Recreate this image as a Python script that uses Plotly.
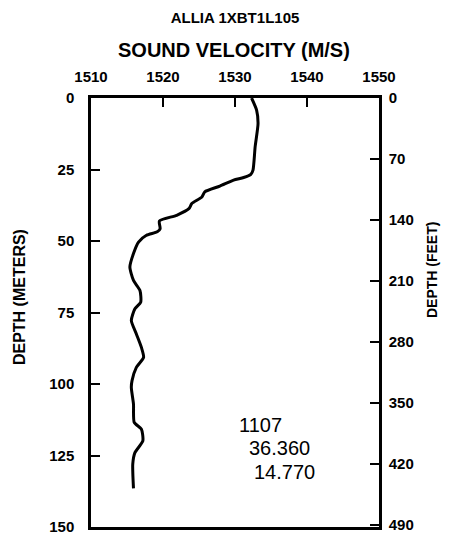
import plotly.graph_objects as go

# XBT cast: sound velocity profile
depth_m = [0, 4.2, 8.9, 17, 25.2, 26.7, 27.8, 28.7, 30.8, 32.8, 34.6, 36.9, 38.7,
           41.0, 43.0, 45.7, 46.8, 48.0, 50.4, 54.4, 59.1, 63.8, 67.3, 71.4, 73.7,
           77.8, 82.5, 87.2, 90.7, 94.2, 98.8, 101.2, 107, 113.4, 115.8, 119.9,
           124, 128, 136.5]
velocity = [1532.3, 1533.0, 1533.2, 1532.8, 1532.5, 1532.2, 1531.2, 1529.8, 1527.9,
            1525.8, 1525.4, 1524.0, 1523.6, 1521.9, 1519.5, 1519.6, 1519.2, 1517.7,
            1516.6, 1515.9, 1515.4, 1515.9, 1516.8, 1516.9, 1516.1, 1515.6, 1516.3,
            1517.0, 1517.3, 1516.3, 1515.7, 1515.6, 1515.9, 1516.0, 1517.0, 1517.2,
            1516.1, 1515.8, 1515.9]

velocity_ticks = [1510, 1520, 1530, 1540, 1550]
meter_ticks = [0, 25, 50, 75, 100, 125, 150]
feet_ticks = [0, 70, 140, 210, 280, 350, 420, 490]
station_info = ["1107", "36.360", "14.770"]

FT_PER_M = 1 / 0.3048
FONT = "Liberation Sans, Arial, sans-serif"


def bold(s):
    return "<b>" + s + "</b>"


fig = go.Figure()
fig.add_trace(go.Scatter(
    x=velocity, y=depth_m, mode="lines",
    line=dict(color="black", width=3, shape="spline", smoothing=0.6),
    showlegend=False, hoverinfo="skip",
))
# invisible trace to carry the feet axis
fig.add_trace(go.Scatter(
    x=[velocity[0]], y=[0], yaxis="y2", mode="markers",
    marker=dict(opacity=0), showlegend=False, hoverinfo="skip",
))

axis_common = dict(
    showline=True, linecolor="black", linewidth=2.5,
    ticks="inside", ticklen=9, tickwidth=2, tickcolor="black",
    showgrid=False, zeroline=False, automargin=False,
    ticklabeloverflow="allow",
    tickfont=dict(family=FONT, size=15, color="black", weight="bold"),
)

fig.update_layout(
    width=450, height=535,
    margin=dict(l=91, r=71, t=98, b=8),
    paper_bgcolor="white", plot_bgcolor="white",
    title=dict(text=bold("ALLIA 1XBT1L105"), x=0.5, xref="paper",
               y=1 - 18 / 535, yanchor="middle",
               font=dict(family=FONT, size=15, color="black")),
    xaxis=dict(range=[1510, 1550], side="top", tickvals=velocity_ticks,
               mirror=True, ticklabelstandoff=7, **axis_common),
    yaxis=dict(range=[150, 0], tickvals=meter_ticks, ticklabelstandoff=11,
               **axis_common),
    yaxis2=dict(range=[150 * FT_PER_M, 0], tickvals=feet_ticks, overlaying="y",
                side="right", ticklabelstandoff=4, **axis_common),
)

# axis titles
titles = [
    ("SOUND VELOCITY (M/S)", 0.497, 1.112, 0, 20),
    ("DEPTH (METERS)", -0.25, 0.536, -90, 16),
    ("DEPTH (FEET)", 1.184, 0.599, -90, 14),
]
for txt, xp, yp, ang, size in titles:
    fig.add_annotation(text=bold(txt), xref="paper", yref="paper", x=xp, y=yp,
                       xanchor="center", yanchor="middle", textangle=ang,
                       showarrow=False,
                       font=dict(family=FONT, size=size, color="black"))

# station number, latitude, longitude
for txt, xp, yp in zip(station_info, [0.507, 0.542, 0.559], [0.238, 0.184, 0.128]):
    fig.add_annotation(text=txt, xref="paper", yref="paper", x=xp, y=yp,
                       xanchor="left", yanchor="middle", showarrow=False,
                       font=dict(family=FONT, size=20, color="black"))

fig.write_html("out.html")
